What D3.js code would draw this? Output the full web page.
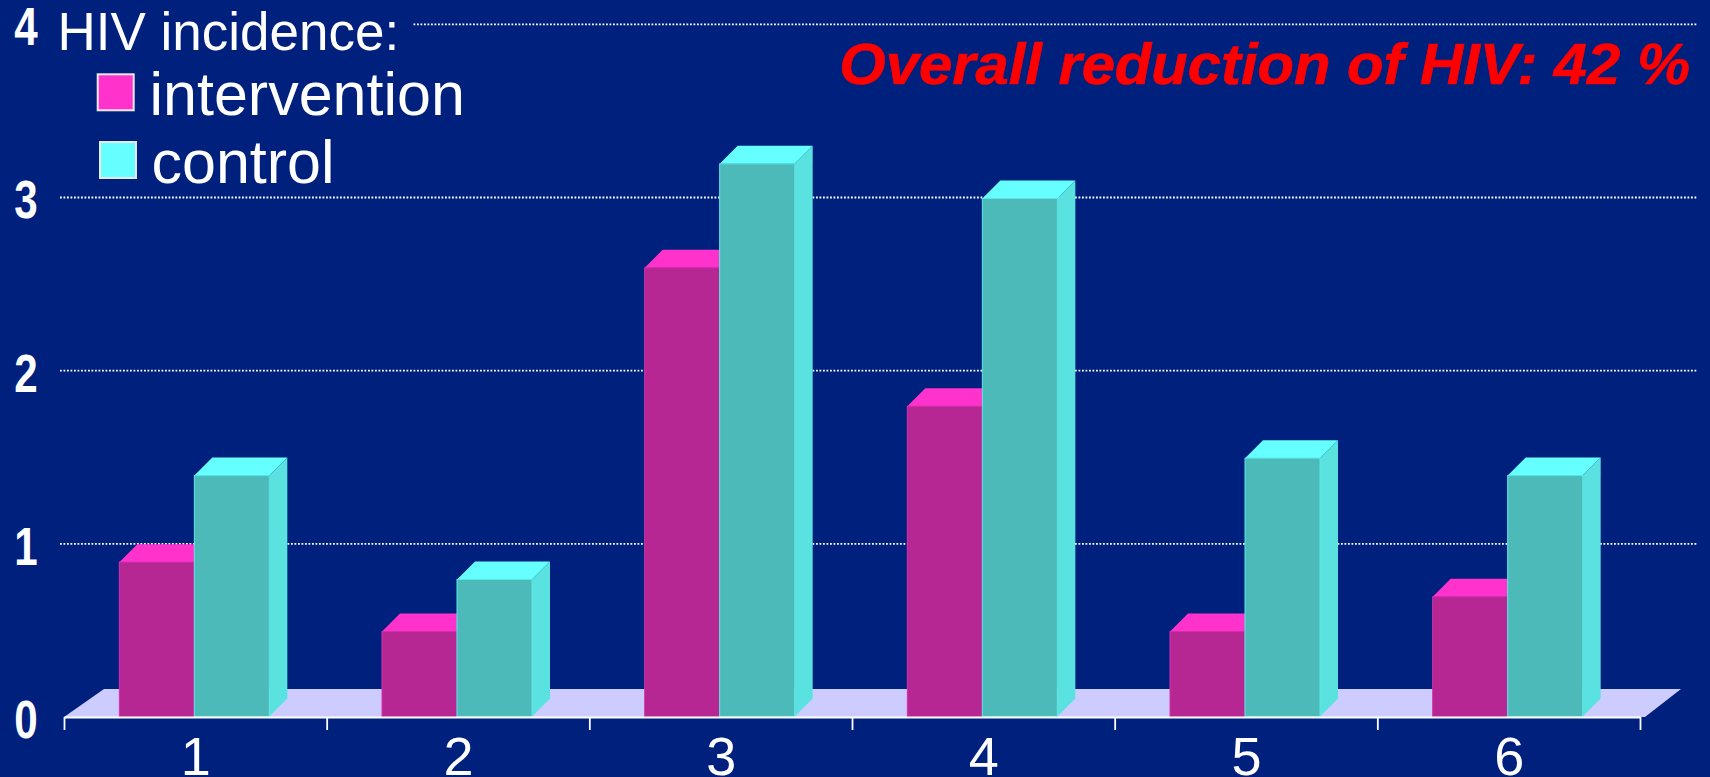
<!DOCTYPE html>
<html>
<head>
<meta charset="utf-8">
<style>
html,body{margin:0;padding:0;background:#00207e;overflow:hidden}
svg{display:block}
</style>
<script src="https://cdn.jsdelivr.net/npm/d3@7"></script>
</head>
<body>
<svg id="chart" width="1710" height="777"></svg>
<script>
// HIV incidence by study group, two arms per group
const categories = ["1", "2", "3", "4", "5", "6"];
const intervention = [0.9, 0.5, 2.6, 1.8, 0.5, 0.7];
const control = [1.4, 0.8, 3.2, 3.0, 1.5, 1.4];
const yTicks = [0, 1, 2, 3, 4];
const legendTitle = "HIV incidence:";
const seriesNames = ["intervention", "control"];
const headline = "Overall reduction of HIV: 42 %";

const W = 1710, H = 777;
const svg = d3.select("#chart");
const sans = "'Liberation Sans', Arial, sans-serif";

const x = d3.scaleBand().domain(categories).range([64, 1640]);
const xEdges = d3.scaleLinear().domain([0, categories.length]).range([64, 1640]);
const y = d3.scaleLinear().domain([0, 4]).range([717, 24.3]);

const barW = 75;
const depth = 18;
const floorDepthY = 28;

const palette = {
  intervention: {front: "#b72794", top: "#ff33cc", side: "#ff33cc", edge: "#d92fb0"},
  control: {front: "#4dbaba", top: "#66ffff", side: "#5ae2e0", edge: "#5fe6e6"}
};

svg.append("rect").attr("width", W).attr("height", H).attr("fill", "#00207e");

// Floor plane under the bars
svg.append("polygon")
  .attr("points", [
    [x.range()[0], y(0)], [x.range()[0] + 40, y(0) - floorDepthY],
    [x.range()[1] + 41, y(0) - floorDepthY], [x.range()[1] + 5, y(0)]
  ].join(" "))
  .attr("fill", "#ccccff");

// Dotted value gridlines
const gridGroup = svg.append("g");
gridGroup.selectAll("line").data(yTicks.filter(d => d > 0)).join("line")
  .attr("x1", 60).attr("x2", 1697)
  .attr("y1", d => y(d)).attr("y2", d => y(d))
  .attr("stroke", "#ffffff").attr("stroke-width", 1.8)
  .attr("stroke-dasharray", "1.8 1.7");

// Legend sits on its own opaque panel, hiding the top gridline beneath it
svg.append("rect").attr("x", 50).attr("y", 2).attr("width", 362).attr("height", 60).attr("fill", "#00207e");

// Bars: front face, top and side as three faces, drawn group by group
function drawBar(g, left, value, colors) {
  const top = y(value) + 1, bottom = y(0) - 0.5, right = left + barW;
  g.append("polygon")
    .attr("points", [[left, top], [left + depth, top - depth], [right + depth, top - depth], [right, top]].join(" "))
    .attr("fill", colors.top);
  g.append("polygon")
    .attr("points", [[right, top], [right + depth, top - depth], [right + depth, bottom - depth], [right, bottom]].join(" "))
    .attr("fill", colors.side);
  g.append("rect")
    .attr("x", left).attr("y", top).attr("width", barW).attr("height", bottom - top)
    .attr("fill", colors.front).attr("stroke", colors.edge).attr("stroke-width", 1);
}

const groups = svg.append("g").selectAll("g").data(categories).join("g");
groups.each(function (c, i) {
  const g = d3.select(this);
  const mid = x(c) + x.bandwidth() / 2 - 1;
  drawBar(g, mid - barW, intervention[i], palette.intervention);
  drawBar(g, mid, control[i], palette.control);
});

// Baseline and boundary ticks
const xTickAxis = d3.axisBottom(xEdges)
  .tickValues(d3.range(categories.length + 1))
  .tickFormat("").tickSize(13).tickSizeOuter(0);
const xTickG = svg.append("g").attr("transform", `translate(0,${y(0)})`).call(xTickAxis);
xTickG.select(".domain").attr("stroke", "#fff").attr("stroke-width", 2);
xTickG.selectAll("line").attr("stroke", "#fff").attr("stroke-width", 1.8);

// Category labels
const xLabelAxis = d3.axisBottom(x).tickSize(0).tickPadding(20);
const xLabelG = svg.append("g").attr("transform", `translate(0.5,${y(0)})`).call(xLabelAxis);
xLabelG.select(".domain").remove();
xLabelG.selectAll("text")
  .attr("fill", "#fff").attr("font-family", sans).attr("font-size", 54);

// Value labels in a tall narrow bold face
const yAxis = d3.axisLeft(y).tickValues(yTicks).tickSize(0).tickFormat(d3.format("d"));
const yG = svg.append("g").call(yAxis);
yG.select(".domain").remove();
yG.selectAll("text")
  .attr("fill", "#fff").attr("font-family", sans).attr("font-weight", "bold")
  .attr("font-size", 54).attr("text-anchor", "middle").attr("dy", 0).attr("x", 0).attr("y", 0)
  .attr("transform", "translate(26,20.5) scale(0.78,1)");

// Legend
svg.append("text").attr("x", 57.5).attr("y", 49.5).text(legendTitle)
  .attr("fill", "#fff").attr("font-family", sans).attr("font-size", 53);

const legendRows = [
  {name: seriesNames[0], sx: 97.7, sy: 74.3, tx: 149.5, ty: 115, fill: palette.intervention.top},
  {name: seriesNames[1], sx: 100, sy: 142, tx: 151.5, ty: 182.5, fill: palette.control.top}
];
legendRows.forEach(r => {
  svg.append("rect").attr("x", r.sx).attr("y", r.sy).attr("width", 36).attr("height", 36)
    .attr("fill", r.fill).attr("stroke", "#e8e8f4").attr("stroke-width", 2);
  svg.append("text").attr("x", r.tx).attr("y", r.ty).text(r.name)
    .attr("fill", "#fff").attr("font-family", sans).attr("font-size", 61);
});

// Headline, widened slightly along the baseline and anchored at its right end
svg.append("text").attr("text-anchor", "end").text(headline)
  .attr("transform", "translate(1690,83.5) scale(1.03,1)")
  .attr("fill", "#ff0000").attr("stroke", "#ff0000").attr("stroke-width", 0.7)
  .attr("font-family", sans)
  .attr("font-weight", "bold").attr("font-style", "italic").attr("font-size", 58);
</script>
</body>
</html>
